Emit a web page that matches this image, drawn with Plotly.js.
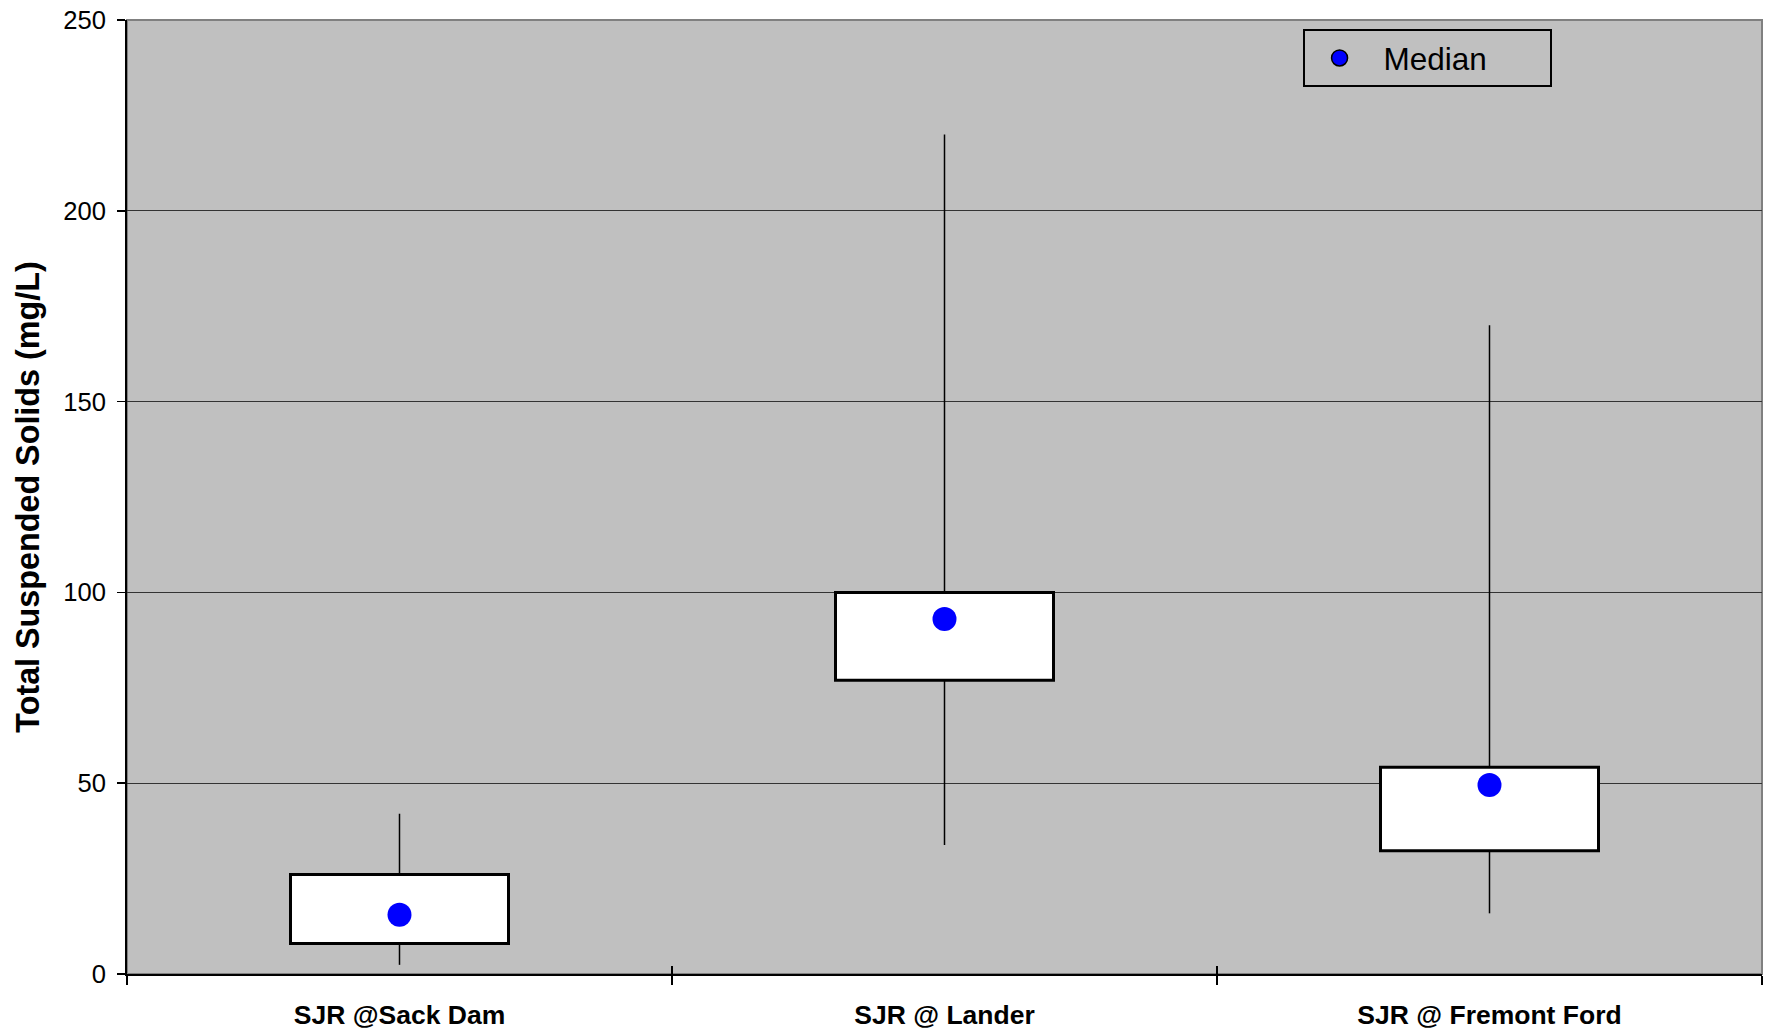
<!DOCTYPE html>
<html>
<head>
<meta charset="utf-8">
<script src="https://cdn.plot.ly/plotly-3.0.1.min.js"></script>
<style>html,body{margin:0;padding:0;background:#fff;}#chart{width:1769px;height:1033px;}</style>
</head>
<body>
<div id="chart"></div>
<script>
const categories = ["SJR @Sack Dam", "SJR @ Lander", "SJR @ Fremont Ford"];
const minVals = [2.4, 33.8, 15.9];
const q1Vals = [8.0, 77.0, 32.3];
const medianVals = [15.5, 93.0, 49.5];
const q3Vals = [26.1, 100.0, 54.2];
const maxVals = [42.0, 220.0, 170.0];
const yTickVals = [0, 50, 100, 150, 200, 250];

const FONT = "Liberation Sans, Arial, sans-serif";

// boxes (Q1..Q3)
const boxTrace = {
  type: "bar",
  x: categories,
  base: q1Vals,
  y: q3Vals.map((v, i) => v - q1Vals[i]),
  width: 0.4,
  marker: {color: "#ffffff", line: {color: "#000000", width: 3}},
  showlegend: false,
  hoverinfo: "skip"
};

// whiskers
const wx = [], wy = [];
categories.forEach((c, i) => {
  wx.push(c, c, null, c, c, null);
  wy.push(minVals[i], q1Vals[i], null, q3Vals[i], maxVals[i], null);
});
const whiskerTrace = {
  type: "scatter", mode: "lines",
  x: wx, y: wy,
  xaxis: "x2",
  line: {color: "#000000", width: 1.5},
  showlegend: false, hoverinfo: "skip", connectgaps: false
};

const medianTrace = {
  type: "scatter", mode: "markers",
  x: categories, y: medianVals,
  marker: {color: "#0000ff", size: 24, line: {width: 0}},
  showlegend: false, name: "Median"
};

const legendTrace = {
  type: "scatter", mode: "markers",
  x: [null], y: [null],
  name: "Median",
  marker: {color: "#0000ff", size: 19, line: {color: "#000000", width: 1.5}},
  showlegend: true
};

const layout = {
  width: 1769, height: 1033,
  margin: {l: 127, r: 7, t: 20, b: 59},
  paper_bgcolor: "#ffffff",
  plot_bgcolor: "#c0c0c0",
  font: {family: FONT, color: "#000000"},
  barmode: "overlay",
  xaxis: {
    type: "category",
    categoryarray: categories, categoryorder: "array",
    range: [-0.5, 2.5],
    tickson: "boundaries",
    ticks: "outside", ticklen: 9, tickwidth: 1.5, tickcolor: "#000000",
    ticklabelstandoff: 16,
    showline: true, linecolor: "#000000", linewidth: 2,
    showgrid: false, zeroline: false,
    tickfont: {family: FONT, size: 26.5, weight: 700, color: "#000000"},
    fixedrange: true
  },
  xaxis2: {
    type: "category",
    categoryarray: categories, categoryorder: "array",
    overlaying: "x", anchor: "y",
    range: [-0.5, 2.5],
    tickson: "boundaries",
    ticks: "inside", ticklen: 8, tickwidth: 1.5, tickcolor: "#000000",
    showticklabels: false, showline: false, showgrid: false, zeroline: false
  },
  yaxis: {
    range: [0, 250],
    tickvals: yTickVals,
    ticks: "outside", ticklen: 8, tickwidth: 1.5, tickcolor: "#000000",
    ticklabelstandoff: 6,
    showline: true, linecolor: "#000000", linewidth: 2,
    showgrid: true, gridcolor: "#333333", gridwidth: 1,
    zeroline: false,
    tickfont: {family: FONT, size: 25.6, color: "#000000"},
    title: {text: "Total Suspended Solids (mg/L)", font: {family: FONT, size: 32.3, weight: 700, color: "#000000"}, standoff: 14},
    fixedrange: true
  },
  legend: {
    x: 0.719, y: 0.9906, xanchor: "left", yanchor: "top",
    orientation: "h",
    bgcolor: "rgba(0,0,0,0)", bordercolor: "#000000", borderwidth: 2,
    font: {family: FONT, size: 31.5, color: "#000000"},
    itemwidth: 78, entrywidth: 161, indentation: -9
  },
  shapes: [{
    type: "rect", xref: "paper", yref: "paper", x0: 0, x1: 1, y0: 0, y1: 1,
    line: {color: "#808080", width: 2}, layer: "below"
  }],
  showlegend: true
};

Plotly.newPlot("chart", [boxTrace, whiskerTrace, medianTrace, legendTrace], layout, {displayModeBar: false, staticPlot: true});
</script>
</body>
</html>
